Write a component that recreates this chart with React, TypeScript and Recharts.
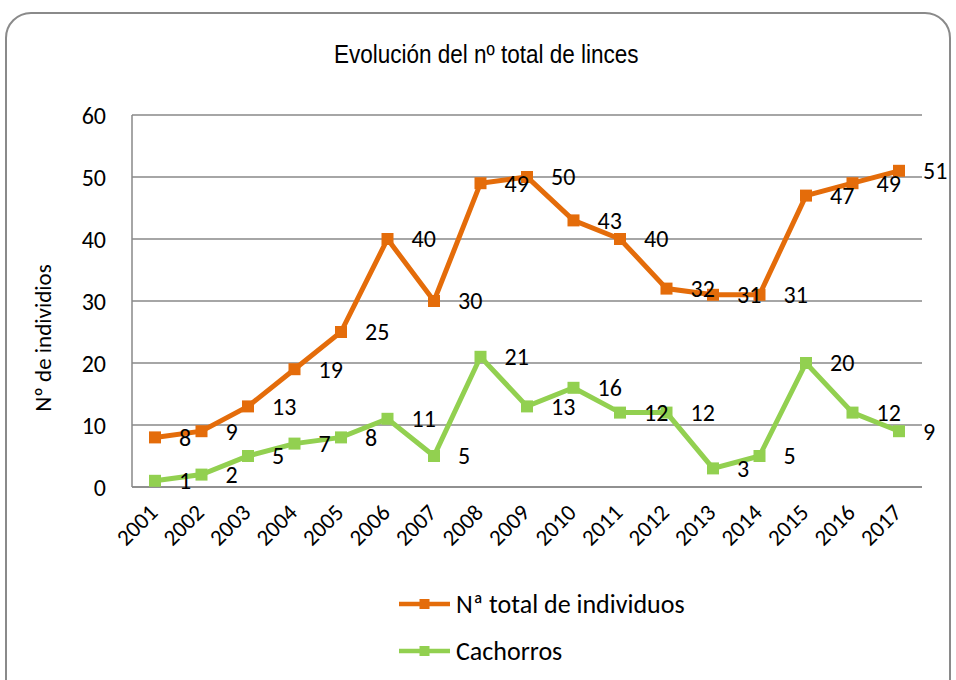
import { LineChart, Line, XAxis, YAxis, CartesianGrid, Legend, LabelList } from "recharts";

// datos del gráfico
const YEARS = ["2001", "2002", "2003", "2004", "2005", "2006", "2007", "2008", "2009", "2010", "2011", "2012", "2013", "2014", "2015", "2016", "2017"];
const TOTAL = [8, 9, 13, 19, 25, 40, 30, 49, 50, 43, 40, 32, 31, 31, 47, 49, 51];
const CACHORROS = [1, 2, 5, 7, 8, 11, 5, 21, 13, 16, 12, 12, 3, 5, 20, 12, 9];
const Y_TICKS = [0, 10, 20, 30, 40, 50, 60];

const ORANGE = "#E46C0A";
const GREEN = "#92D050";
const GRID = "#888888";
const NUM_FONT = "Carlito, Lato, 'Noto Sans', sans-serif";

const data = YEARS.map((year, i) => ({ year, total: TOTAL[i], cachorros: CACHORROS[i] }));

const SERIES = [
  { key: "total", name: "Nª total de individuos", color: ORANGE },
  { key: "cachorros", name: "Cachorros", color: GREEN },
];

const squareDot = (color: string) => (p: any) => (
  <rect key={`d-${p.index}`} x={p.cx - 6} y={p.cy - 6} width={12} height={12} fill={color} />
);

const ValueLabel = (p: any) => (
  <text x={p.x + 24} y={p.y} dy="0.35em" fontSize={24} fontFamily={NUM_FONT} fill="#000">
    {p.value}
  </text>
);

const YearTick = (p: any) => (
  <g transform={`translate(${p.x + 4},${p.y + 19})`}>
    <text x={0} y={0} textAnchor="end" transform="rotate(-45)" fontSize={23} fontFamily={NUM_FONT} fill="#000">
      {p.payload.value}
    </text>
  </g>
);

const LegendBox = () => (
  <div>
    {SERIES.map((s) => (
      <div key={s.key} style={{ display: "flex", alignItems: "center", height: 47 }}>
        <svg width={52} height={14}>
          <line x1={0} y1={7} x2={51} y2={7} stroke={s.color} strokeWidth={4.5} />
          <rect x={20.5} y={2} width={10} height={10} fill={s.color} />
        </svg>
        <span style={{ fontFamily: NUM_FONT, fontSize: 26, marginLeft: 5, color: "#000", lineHeight: "30px" }}>
          {s.name}
        </span>
      </div>
    ))}
  </div>
);

export default function App() {
  return (
    <div style={{ position: "fixed", left: 0, top: 0, width: 956, height: 680, overflow: "hidden", background: "#fff" }}>
      <div
        style={{
          position: "absolute",
          left: 5,
          top: 12,
          width: 946,
          height: 720,
          border: "2px solid #8a8a8a",
          borderRadius: 26,
          boxSizing: "border-box",
        }}
      />
      <div
        style={{
          position: "absolute",
          left: 0,
          width: 972,
          top: 39,
          lineHeight: "30px",
          textAlign: "center",
        }}
      >
        <span
          style={{
            display: "inline-block",
            transform: "scaleX(0.9)",
            fontFamily: "'Liberation Sans', Arial, sans-serif",
            fontSize: 25,
            color: "#000",
          }}
        >
          Evolución del nº total de linces
        </span>
      </div>
      <div style={{ position: "absolute", left: 0, top: 0 }}>
        <LineChart width={956} height={680} data={data} margin={{ top: 115, right: 34, bottom: 0, left: 0 }}>
          <CartesianGrid vertical={false} stroke={GRID} strokeWidth={1.5} />
          <XAxis
            dataKey="year"
            height={193}
            padding={{ left: 23, right: 23 }}
            tickLine={false}
            axisLine={{ stroke: GRID, strokeWidth: 1.5 }}
            interval={0}
            tick={<YearTick />}
          />
          <YAxis
            width={132}
            domain={[0, 60]}
            ticks={Y_TICKS}
            tickSize={0}
            tickMargin={26}
            tickLine={false}
            axisLine={{ stroke: GRID, strokeWidth: 1.5 }}
            tick={{ fontSize: 24, fontFamily: NUM_FONT, fill: "#000" }}
            label={{
              content: () => (
                <text
                  x={43}
                  y={338}
                  transform="rotate(-90 43 338)"
                  textAnchor="middle"
                  dy="0.35em"
                  fontSize={23}
                  fontFamily={NUM_FONT}
                  fill="#000"
                >
                  Nº de individios
                </text>
              ),
            }}
          />
          <Legend
            layout="vertical"
            align="center"
            verticalAlign="middle"
            wrapperStyle={{ top: 580, left: 399, width: 340 }}
            content={<LegendBox />}
          />
          {SERIES.map((s) => (
            <Line
              key={s.key}
              dataKey={s.key}
              name={s.name}
              stroke={s.color}
              strokeWidth={5}
              dot={squareDot(s.color)}
              activeDot={false}
              isAnimationActive={false}
            >
              <LabelList dataKey={s.key} content={<ValueLabel />} />
            </Line>
          ))}
        </LineChart>
      </div>
    </div>
  );
}
